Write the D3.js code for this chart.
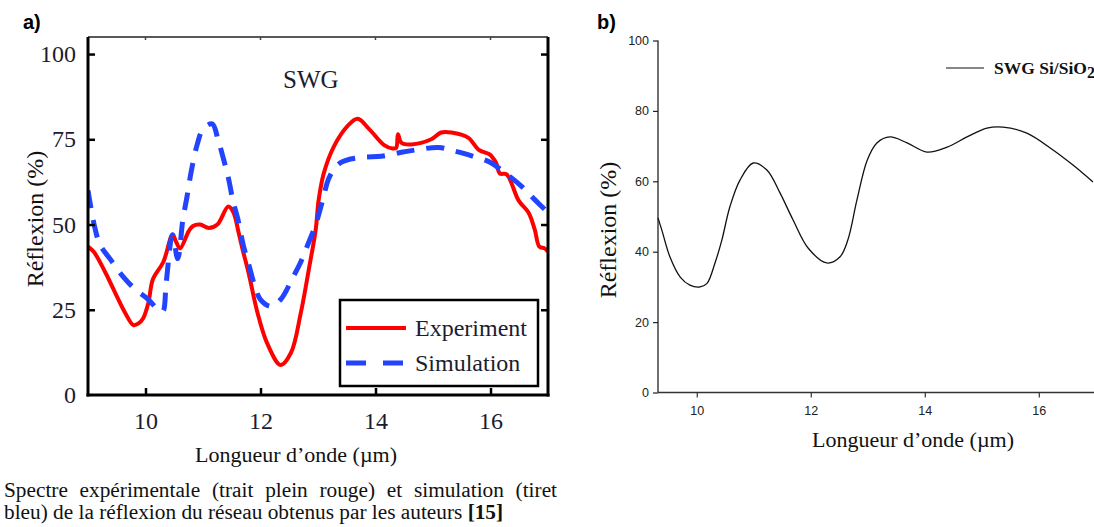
<!DOCTYPE html>
<html>
<head>
<meta charset="utf-8">
<script src="https://cdn.jsdelivr.net/npm/d3@7"></script>
<style>
  html, body { margin: 0; padding: 0; background: #fff; }
  svg { display: block; }
</style>
</head>
<body>
<svg id="chart" width="1094" height="527"></svg>
<script>
// ---------- Data ----------
// Panel a: experiment (red solid)
const expX = [9.0, 9.1, 9.3, 9.5, 9.65, 9.79, 9.88, 9.96, 10.05, 10.13, 10.31, 10.47, 10.53, 10.6, 10.75, 10.82, 10.95, 11.1, 11.25, 11.44, 11.53, 11.62, 11.69, 11.79, 11.95, 12.12, 12.35, 12.53, 12.7, 12.84, 12.96, 13.01, 13.1, 13.28, 13.52, 13.69, 13.89, 14.15, 14.3, 14.36, 14.39, 14.45, 14.62, 14.97, 15.14, 15.32, 15.61, 15.79, 15.98, 16.02, 16.1, 16.16, 16.28, 16.49, 16.66, 16.77, 16.85, 16.94, 17.0];
const expY = [43.5, 42, 36, 29, 24, 20.5, 21, 22.5, 27, 34, 39, 47, 45, 43, 48, 49.5, 50, 49, 50, 55.3, 53.5, 47.6, 42.6, 36, 24, 15, 8.8, 12.4, 24, 36.8, 48.5, 57, 65, 73, 79, 81, 78, 73.3, 72.3, 72.5, 76.5, 74, 73.5, 75, 77, 77, 75.5, 72, 70.6, 70, 68, 65, 64.7, 57, 53.5, 48.5, 43.5, 43, 42];
// Panel a: simulation (blue dashed)
const simX = [9.0, 9.05, 9.12, 9.21, 9.38, 9.61, 9.82, 10.05, 10.22, 10.3, 10.36, 10.47, 10.56, 10.65, 10.72, 10.8, 10.9, 11.0, 11.16, 11.26, 11.36, 11.45, 11.52, 11.6, 11.7, 11.8, 11.9, 12.0, 12.18, 12.35, 12.57, 12.7, 12.82, 12.96, 13.08, 13.2, 13.4, 13.76, 14.1, 14.45, 14.75, 15.1, 15.38, 15.7, 16.0, 16.24, 16.54, 16.77, 17.0];
const simY = [60, 55, 49, 44, 40, 34.7, 31, 28, 25, 24.5, 33, 47, 40, 51.5, 58, 66, 73.5, 78, 79.5, 75, 69, 63, 57, 52, 44, 38, 32, 28, 26, 28, 34.7, 39, 44, 50, 57, 64, 68.2, 69.7, 70, 71.2, 72, 72.6, 71.5, 70, 68.2, 65.3, 61.2, 57.3, 53.5];
const aXTicks = [10, 12, 14, 16];
const aYTicks = [0, 25, 50, 75, 100];
const aLegend = ["Experiment", "Simulation"];

// Panel b: SWG Si/SiO2 (black)
const swgX = [9.32, 9.39, 9.53, 9.71, 9.88, 10.06, 10.18, 10.32, 10.44, 10.58, 10.76, 10.99, 11.23, 11.46, 11.69, 11.96, 12.28, 12.51, 12.65, 12.81, 12.99, 13.16, 13.39, 13.69, 14.04, 14.39, 14.74, 15.09, 15.37, 15.79, 16.25, 16.6, 16.95];
const swgY = [49.6, 46, 38.5, 32.8, 30.5, 30, 31, 36.8, 43.3, 52.7, 60.4, 65.2, 63.2, 56.7, 49, 40.9, 36.8, 38.5, 43.3, 54.7, 66, 70.9, 72.6, 70.9, 68.3, 69.7, 72.6, 75.1, 75.4, 73.7, 68.9, 64.6, 59.8];
const bXTicks = [10, 12, 14, 16];
const bYTicks = [0, 20, 40, 60, 80, 100];

const xTitle = "Longueur d\u2019onde (\u00b5m)";
const yTitle = "R\u00e9flexion (%)";
const captionLine1 = "Spectre exp\u00e9rimentale (trait plein rouge) et simulation (tiret";
const captionLine2 = "bleu) de la r\u00e9flexion du r\u00e9seau obtenus par les auteurs ";
const captionRef = "[15]";

// ---------- Drawing ----------
const svg = d3.select("#chart");
svg.append("rect").attr("width", 1094).attr("height", 527).attr("fill", "#fff");
const serif = "'Liberation Serif', 'Times New Roman', serif";
const sans = "'Liberation Sans', Arial, sans-serif";

// ===== Panel a =====
const ax = d3.scaleLinear().domain([9, 17]).range([88, 548]);
const ay = d3.scaleLinear().domain([0, 105]).range([395, 37]);
const ga = svg.append("g");

const lineA = (xs, ys) => d3.line()
  .x(i => ax(xs[i])).y(i => ay(ys[i]))
  .curve(d3.curveCatmullRom.alpha(0.5))(d3.range(xs.length));

ga.append("defs").append("clipPath").attr("id", "clipA")
  .append("rect").attr("x", 88).attr("y", 37).attr("width", 460).attr("height", 358);

// curves
ga.append("path").attr("d", lineA(expX, expY)).attr("fill", "none")
  .attr("stroke", "#ff0000").attr("stroke-width", 4).attr("stroke-linejoin", "round")
  .attr("clip-path", "url(#clipA)");
ga.append("path").attr("d", lineA(simX, simY)).attr("fill", "none")
  .attr("stroke", "#2244ff").attr("stroke-width", 5).attr("stroke-dasharray", "18,12")
  .attr("clip-path", "url(#clipA)");

// frame: top thin
ga.append("line").attr("x1", 88).attr("x2", 548).attr("y1", 37).attr("y2", 37)
  .attr("stroke", "#222").attr("stroke-width", 1.3);
ga.selectAll(".topTick").data(aXTicks).enter().append("line")
  .attr("x1", d => ax(d)).attr("x2", d => ax(d)).attr("y1", 37).attr("y2", 40)
  .attr("stroke", "#444").attr("stroke-width", 1.5);

// left axis (thick, ticks inward)
const leftAx = ga.append("g").attr("transform", "translate(88,0)")
  .call(d3.axisLeft(ay).tickValues(aYTicks).tickSize(-7).tickPadding(12).tickFormat(d3.format("d")));
leftAx.select(".domain").remove();
leftAx.selectAll(".tick line").attr("stroke", "#000").attr("stroke-width", 2.5)
  .filter(d => d === 0).remove();
leftAx.selectAll(".tick text").attr("font-family", serif).attr("font-size", 24).attr("fill", "#1c1c30");
ga.append("line").attr("x1", 88).attr("x2", 88).attr("y1", 37).attr("y2", 396.5)
  .attr("stroke", "#000").attr("stroke-width", 3);

// right border (thick, ticks inward)
const rightAx = ga.append("g").attr("transform", "translate(548,0)")
  .call(d3.axisRight(ay).tickValues(aYTicks.filter(d => d > 0)).tickSize(-7).tickFormat(""));
rightAx.select(".domain").remove();
rightAx.selectAll(".tick line").attr("stroke", "#000").attr("stroke-width", 2.5);
ga.append("line").attr("x1", 548).attr("x2", 548).attr("y1", 37).attr("y2", 396.5)
  .attr("stroke", "#000").attr("stroke-width", 3);

// bottom axis (thick, ticks inward)
const botAx = ga.append("g").attr("transform", "translate(0,395)")
  .call(d3.axisBottom(ax).tickValues(aXTicks).tickSize(-7).tickPadding(17).tickFormat(d3.format("d")));
botAx.select(".domain").remove();
botAx.selectAll(".tick line").attr("stroke", "#000").attr("stroke-width", 2.5);
botAx.selectAll(".tick text").attr("font-family", serif).attr("font-size", 24).attr("fill", "#1c1c30");
ga.append("line").attr("x1", 86.5).attr("x2", 549.5).attr("y1", 395).attr("y2", 395)
  .attr("stroke", "#000").attr("stroke-width", 3);

// SWG label
ga.append("text").attr("x", 283).attr("y", 88).attr("font-family", serif)
  .attr("font-size", 25).attr("fill", "#1c1c30").text("SWG");

// legend
ga.append("rect").attr("x", 340).attr("y", 300).attr("width", 198).attr("height", 86)
  .attr("fill", "#fff").attr("stroke", "#000").attr("stroke-width", 2.5);
const legStyles = [
  { stroke: "#ff0000", w: 4, dash: null },
  { stroke: "#2244ff", w: 5, dash: "20,17" }
];
aLegend.forEach((name, i) => {
  const yy = 328 + i * 35;
  ga.append("line").attr("x1", 346).attr("x2", 406).attr("y1", yy).attr("y2", yy)
    .attr("stroke", legStyles[i].stroke).attr("stroke-width", legStyles[i].w)
    .attr("stroke-dasharray", legStyles[i].dash);
  ga.append("text").attr("x", 415).attr("y", yy).attr("dy", "0.35em")
    .attr("font-family", serif).attr("font-size", 24).attr("fill", "#1c1c30").text(name);
});

// titles
ga.append("text").attr("x", 296).attr("y", 462).attr("text-anchor", "middle")
  .attr("font-family", serif).attr("font-size", 22).attr("fill", "#111").text(xTitle);
ga.append("text").attr("transform", "translate(35,219) rotate(-90)").attr("text-anchor", "middle")
  .attr("dy", "0.35em").attr("font-family", serif).attr("font-size", 24).attr("fill", "#111").text(yTitle);
ga.append("text").attr("x", 23).attr("y", 29).attr("font-family", sans).attr("font-weight", "bold")
  .attr("font-size", 20).attr("fill", "#000").text("a)");

// caption
const cap = svg.append("g").attr("font-family", serif).attr("font-size", 21.3).attr("fill", "#111");
const words = captionLine1.split(" ");
const wNodes = words.map(w => cap.append("text").attr("y", 497).text(w));
const widths = wNodes.map(n => n.node().getComputedTextLength());
const total = d3.sum(widths);
const x0 = 4, x1 = 557;
const gap = (x1 - x0 - total) / (words.length - 1);
let cx = x0;
wNodes.forEach((n, i) => { n.attr("x", cx); cx += widths[i] + gap; });
const l2 = cap.append("text").attr("x", 4).attr("y", 519);
l2.append("tspan").text(captionLine2);
l2.append("tspan").attr("font-weight", "bold").text(captionRef);

// ===== Panel b =====
const bx = d3.scaleLinear().domain([9.32, 17]).range([658, 1095.8]);
const by = d3.scaleLinear().domain([0, 100]).range([392.5, 40.5]);
const gb = svg.append("g");

const yAxB = gb.append("g").attr("transform", "translate(658,0)")
  .call(d3.axisLeft(by).tickValues(bYTicks).tickSize(5).tickPadding(4).tickFormat(d3.format("d")));
yAxB.select(".domain").attr("stroke", "#222").attr("stroke-width", 1.3).attr("d", "M0,40.5V392.5");
yAxB.selectAll(".tick line").attr("stroke", "#222").attr("stroke-width", 1.2);
yAxB.selectAll(".tick text").attr("font-family", sans).attr("font-size", 12.5).attr("fill", "#222");

const xAxB = gb.append("g").attr("transform", "translate(0,392.5)")
  .call(d3.axisBottom(bx).tickValues(bXTicks).tickSize(5).tickPadding(9).tickFormat(d3.format("d")));
xAxB.select(".domain").attr("stroke", "#333").attr("stroke-width", 1.3).attr("d", "M658,0H1094");
xAxB.selectAll(".tick line").attr("stroke", "#333").attr("stroke-width", 1.2);
xAxB.selectAll(".tick text").attr("font-family", sans).attr("font-size", 12.5).attr("fill", "#222");

gb.append("path")
  .attr("d", d3.line().x(i => bx(swgX[i])).y(i => by(swgY[i]))
    .curve(d3.curveCatmullRom.alpha(0.5))(d3.range(swgX.length)))
  .attr("fill", "none").attr("stroke", "#111").attr("stroke-width", 1.3);

// legend b
gb.append("line").attr("x1", 946).attr("x2", 984).attr("y1", 68).attr("y2", 68)
  .attr("stroke", "#111").attr("stroke-width", 1.2);
const lt = gb.append("text").attr("x", 994).attr("y", 74).attr("font-family", serif)
  .attr("font-weight", "bold").attr("font-size", 17.5).attr("fill", "#111");
lt.append("tspan").text("SWG Si/SiO");
lt.append("tspan").attr("dy", 4).attr("font-size", 16).text("2");

// titles b
gb.append("text").attr("x", 913).attr("y", 447).attr("text-anchor", "middle")
  .attr("font-family", serif).attr("font-size", 22).attr("fill", "#111").text(xTitle);
gb.append("text").attr("transform", "translate(608,230) rotate(-90)").attr("text-anchor", "middle")
  .attr("dy", "0.35em").attr("font-family", serif).attr("font-size", 24).attr("fill", "#111").text(yTitle);
gb.append("text").attr("x", 597).attr("y", 29).attr("font-family", sans).attr("font-weight", "bold")
  .attr("font-size", 20).attr("fill", "#000").text("b)");
</script>
</body>
</html>
